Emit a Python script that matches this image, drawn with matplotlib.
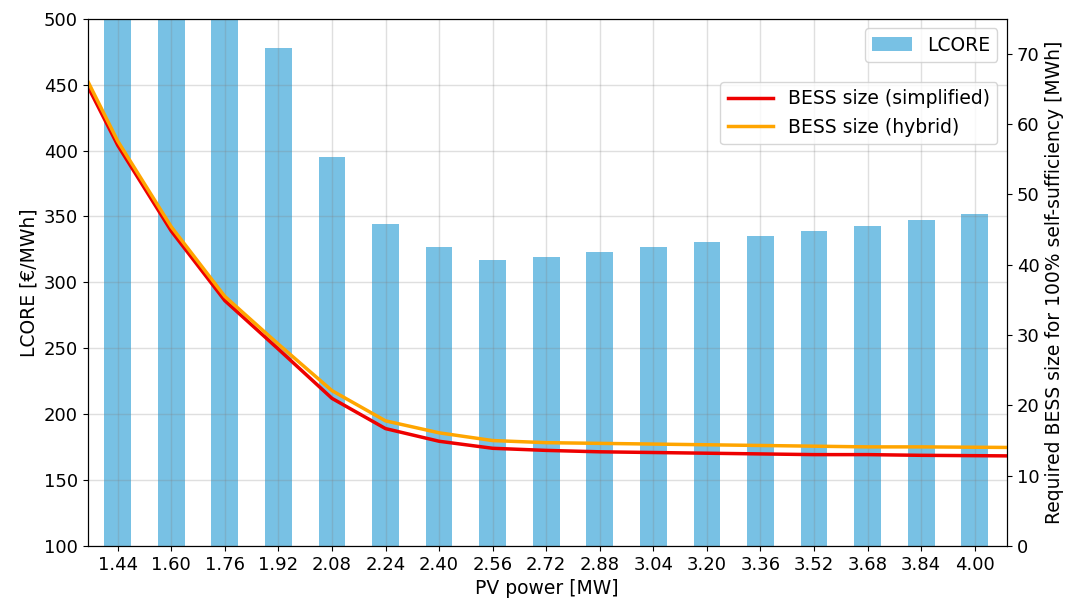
import numpy as np
import matplotlib.pyplot as plt

# PV power categories [MW]
pv_power = ['1.44', '1.60', '1.76', '1.92', '2.08', '2.24', '2.40', '2.56', '2.72',
            '2.88', '3.04', '3.20', '3.36', '3.52', '3.68', '3.84', '4.00']
# LCORE [EUR/MWh] (first three go above the axis limit)
lcore = [760, 610, 530, 478, 395, 344, 327, 317, 319, 323, 327, 331, 335, 339, 343, 347, 352]

# BESS size curves [MWh], one step beyond each end (1.28 and 4.16 MW)
pv_line = [1.28, 1.44, 1.60, 1.76, 1.92, 2.08, 2.24, 2.40, 2.56, 2.72,
           2.88, 3.04, 3.20, 3.36, 3.52, 3.68, 3.84, 4.00, 4.16]
bess_simplified = [72.0, 57.0, 44.8, 34.9, 28.0, 21.0, 16.7, 14.9, 13.9, 13.6,
                   13.4, 13.3, 13.2, 13.1, 13.0, 13.0, 12.9, 12.85, 12.8]
bess_hybrid = [72.8, 57.6, 45.4, 35.5, 28.7, 22.1, 17.8, 16.1, 15.0, 14.7,
               14.6, 14.5, 14.4, 14.3, 14.2, 14.1, 14.1, 14.05, 14.0]

plt.rcParams['font.size'] = 13
plt.rcParams['axes.labelsize'] = 13.5
plt.rcParams['legend.fontsize'] = 13.5

fig, ax = plt.subplots(figsize=(10.7, 6.04), dpi=100)
fig.subplots_adjust(left=0.082, right=0.941, top=0.969, bottom=0.096)

x = np.arange(len(pv_power))
ax.bar(x, lcore, width=0.5, color='#78c1e4', label='LCORE')
ax.set_ylim(100, 500)
ax.set_xticks(x)
ax.set_xticklabels(pv_power)
ax.set_xlabel('PV power [MW]')
ax.set_ylabel('LCORE [€/MWh]')
ax.grid(True, color='gray', alpha=0.25, linewidth=1)
ax.legend(loc='upper right', handlelength=2.1)

ax2 = ax.twinx()
xl = (np.array(pv_line) - 1.44) / 0.16
ax2.plot(xl, bess_simplified, color='#ee0000', lw=2.5, label='BESS size (simplified)')
ax2.plot(xl, bess_hybrid, color='orange', lw=2.5, label='BESS size (hybrid)')
ax2.set_ylim(0, 75)
ax2.set_ylabel('Required BESS size for 100% self-sufficiency [MWh]')
ax2.legend(loc='upper right', bbox_to_anchor=(1.0, 0.898), handlelength=2.4)
ax.set_xlim(-0.56, 16.6)

fig.savefig('out.png')
